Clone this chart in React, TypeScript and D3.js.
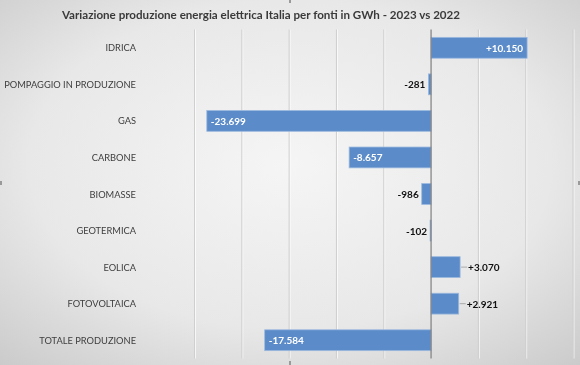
import React from "react";
import * as d3 from "d3";

const categories = [
  "IDRICA",
  "POMPAGGIO IN PRODUZIONE",
  "GAS",
  "CARBONE",
  "BIOMASSE",
  "GEOTERMICA",
  "EOLICA",
  "FOTOVOLTAICA",
  "TOTALE PRODUZIONE",
];
const values = [10150, -281, -23699, -8657, -986, -102, 3070, 2921, -17584];
const gridTicks = [-25000, -20000, -15000, -10000, -5000, 0, 5000, 10000, 15000];
const title = "Variazione produzione energia elettrica Italia per fonti in GWh - 2023 vs 2022";

const W = 580;
const H = 365;
const FONT = "Lato, 'Open Sans', 'DejaVu Sans', sans-serif";

function fmt(v: number): string {
  const s = d3.format(",")(Math.abs(v)).replace(/,/g, ".");
  return (v > 0 ? "+" : "-") + s;
}

export default function App() {
  const x = d3.scaleLinear().domain([-25000, 15000]).range([194.5, 573]);
  const y = d3
    .scaleBand<string>()
    .domain(categories)
    .range([29.5, 358.5])
    .paddingInner(0.43)
    .paddingOuter(0.215);
  const bw = y.bandwidth();
  const x0 = x(0);

  return (
    <div style={{ position: "fixed", left: 0, top: 0, width: W, height: H }}>
      <svg width={W} height={H} style={{ display: "block" }}>
        <defs>
          <radialGradient id="bg" cx="50%" cy="45%" r="75%">
            <stop offset="0%" stopColor="#f5f5f5" />
            <stop offset="60%" stopColor="#e8e8e8" />
            <stop offset="100%" stopColor="#cacaca" />
          </radialGradient>
        </defs>
        <rect x={0} y={0} width={W} height={H} fill="url(#bg)" />
        {/* gridlines */}
        {gridTicks
          .filter((t) => t !== 0)
          .map((t) => (
            <g key={t}>
              <line x1={x(t) + 1} x2={x(t) + 1} y1={29.5} y2={358.5} stroke="#ffffff" strokeOpacity={0.7} />
              <line x1={x(t)} x2={x(t)} y1={29.5} y2={358.5} stroke="#cfcfcf" strokeWidth={1} />
            </g>
          ))}
        {/* title */}
        <text
          x={261}
          y={14}
          textAnchor="middle"
          dominantBaseline="central"
          fontFamily={FONT}
          fontWeight="bold"
          fontSize={11.6}
          fill="#3a3a3a"
        >
          {title}
        </text>
        {/* bars */}
        {categories.map((c, i) => {
          const v = values[i];
          const yy = y(c)!;
          const xa = Math.min(x(v), x0);
          const w = Math.abs(x(v) - x0);
          return (
            <rect
              key={c}
              x={xa}
              y={yy}
              width={w}
              height={bw}
              fill="#5b8bc8"
              stroke="#9bb9df"
              strokeWidth={0.8}
            />
          );
        })}
        {/* zero axis */}
        <line x1={x0} x2={x0} y1={29.5} y2={358.5} stroke="#7f7f7f" strokeWidth={1.2} />
        {/* category labels */}
        {categories.map((c) => (
          <text
            key={c}
            x={136}
            y={y(c)! + bw / 2}
            textAnchor="end"
            dominantBaseline="central"
            fontFamily={FONT}
            fontSize={9.3}
            fill="#404040"
          >
            {c}
          </text>
        ))}
        {/* data labels */}
        {categories.map((c, i) => {
          const v = values[i];
          const cy = y(c)! + bw / 2;
          const inside = Math.abs(v) > 5000;
          const xv = x(v);
          if (inside) {
            return (
              <text
                key={c}
                x={v > 0 ? xv - 4 : xv + 4}
                y={cy}
                textAnchor={v > 0 ? "end" : "start"}
                dominantBaseline="central"
                fontFamily={FONT}
                fontWeight="bold"
                fontSize={10}
                fill="#ffffff"
              >
                {fmt(v)}
              </text>
            );
          }
          if (v < 0) {
            return (
              <text
                key={c}
                x={xv - 3}
                y={cy}
                textAnchor="end"
                dominantBaseline="central"
                fontFamily={FONT}
                fontWeight="bold"
                fontSize={10}
                fill="#111111"
              >
                {fmt(v)}
              </text>
            );
          }
          return (
            <g key={c}>
              <line x1={xv + 1} x2={xv + 7} y1={cy} y2={cy} stroke="#9a9a9a" strokeWidth={0.8} />
              <text
                x={xv + 8}
                y={cy}
                textAnchor="start"
                dominantBaseline="central"
                fontFamily={FONT}
                fontWeight="bold"
                fontSize={10}
                fill="#111111"
              >
                {fmt(v)}
              </text>
            </g>
          );
        })}
        {/* chart selection handles */}
        <rect x={289} y={0} width={2} height={3} fill="#9a9a9a" />
        <rect x={0} y={181} width={2} height={4} fill="#9a9a9a" />
        <rect x={578} y={181} width={2} height={4} fill="#9a9a9a" />
        <rect x={289} y={361} width={2} height={4} fill="#9a9a9a" />
      </svg>
    </div>
  );
}
